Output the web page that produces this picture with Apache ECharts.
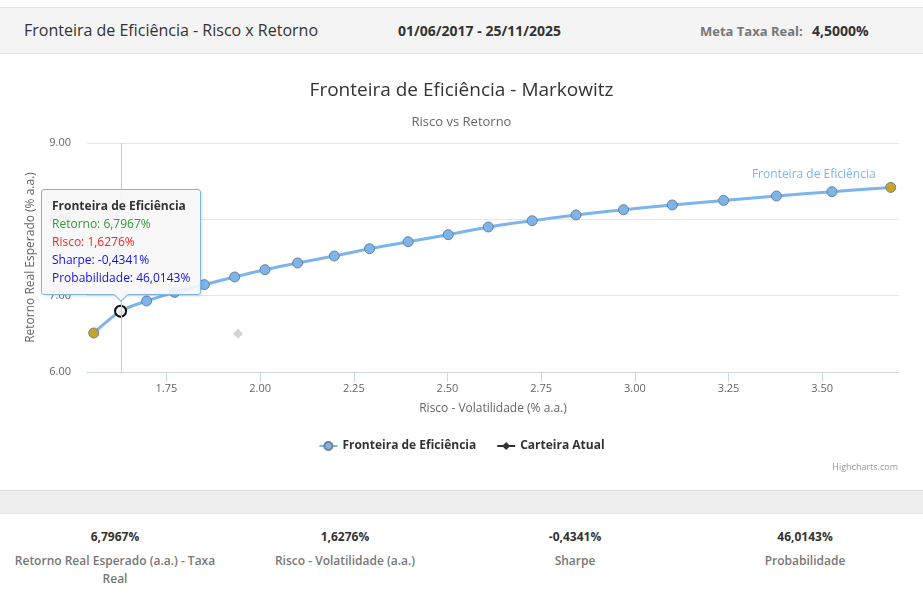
<!DOCTYPE html>
<html>
<head>
<meta charset="utf-8">
<script src="https://cdn.jsdelivr.net/npm/echarts@6/dist/echarts.min.js"></script>
<style>
	body { margin: 0; width: 923px; height: 606px; background: #fff; font-family: 'Open Sans', sans-serif; position: relative; overflow: hidden; }
	#header { position: absolute; top: 7px; left: 0; width: 923px; height: 45px; background: #f4f4f4; border-top: 1px solid #e4e4e4; border-bottom: 1px solid #e4e4e4; }
	#header div { position: absolute; top: 11px; font-size: 16px; color: #333; white-space: nowrap; }
	#chartdiv { position: absolute; top: 55px; left: 0; width: 923px; height: 435px; }
	#band { position: absolute; top: 490px; left: 0; width: 923px; height: 22px; background: #eee; border-top: 1px solid #ddd; border-bottom: 1px solid #e4e4e4; }
	#footer { position: absolute; top: 528px; left: 0; width: 923px; }
	#footer .col { float: left; width: 230px; text-align: center; padding: 0 14px; box-sizing: border-box; }
	#footer .val { font-size: 12px; font-weight: bold; color: #333; line-height: 18px; }
	#footer .lbl { font-size: 12px; font-weight: 600; color: #777; line-height: 18px; margin-top: 6px; }
</style>
</head>
<body>
<div id="header">
	<div style="left:24px;">Fronteira de Eficiência - Risco x Retorno</div>
	<div style="left:398px;font-weight:bold;font-size:14px;top:13px;">01/06/2017 - 25/11/2025</div>
	<div style="left:700px;font-weight:bold;font-size:13px;top:14px;color:#777;">Meta Taxa Real:</div>
	<div style="left:812px;font-weight:bold;font-size:14px;top:13px;">4,5000%</div>
</div>
<div id="chartdiv"></div>
<div id="band"></div>
<div id="footer"></div>
<script>
// fronteira: risco (x) e retorno (y)
var riscoFronteira = [1.556, 1.6276, 1.697, 1.772, 1.851, 1.932, 2.013, 2.100, 2.198, 2.292, 2.395,
	2.502, 2.609, 2.726, 2.843, 2.970, 3.100, 3.237, 3.378, 3.526, 3.683];
var retornoFronteira = [6.511, 6.7967, 6.930, 7.043, 7.144, 7.245, 7.340, 7.428, 7.520, 7.615, 7.707,
	7.799, 7.900, 7.982, 8.057, 8.126, 8.188, 8.248, 8.305, 8.362, 8.418];
var carteiraAtual = [1.941, 6.502];
var xTicks = [1.75, 2.00, 2.25, 2.50, 2.75, 3.00, 3.25, 3.50];
var selIndex = 1;
var selInfo = { retorno: '6,7967%', risco: '1,6276%', sharpe: '-0,4341%', probabilidade: '46,0143%' };
var footerLabels = ['Retorno Real Esperado (a.a.) - Taxa Real', 'Risco - Volatilidade (a.a.)', 'Sharpe', 'Probabilidade'];
var footerValues = [selInfo.retorno, selInfo.risco, selInfo.sharpe, selInfo.probabilidade];

var footer = document.getElementById('footer');
for (var i in footerLabels) {
	var col = document.createElement('div');
	col.className = 'col';
	col.innerHTML = '<div class="val">' + footerValues[i] + '</div><div class="lbl">' + footerLabels[i] + '</div>';
	footer.appendChild(col);
}

var gold = '#c9a42a';
var blue = '#7cb5ec';
var fronteiraData = [];
for (var i = 0; i < riscoFronteira.length; i++) {
	var item = { value: [riscoFronteira[i], retornoFronteira[i]] };
	if (i == 0 || i == riscoFronteira.length - 1) {
		item.itemStyle = { color: gold };
	}
	if (i == selIndex) {
		item.symbolSize = 11;
		item.itemStyle = { color: '#eeeeee', borderColor: '#111', borderWidth: 2 };
	}
	if (i == riscoFronteira.length - 1) {
		item.label = { show: true, position: 'top', offset: [-77, 4], formatter: 'Fronteira de Eficiência',
			color: blue, fontSize: 12, fontFamily: 'Open Sans' };
	}
	fronteiraData.push(item);
}

var chart = echarts.init(document.getElementById('chartdiv'));
var font = 'Open Sans';
var option = {
	animation: false,
	textStyle: { fontFamily: font },
	title: [{
		text: 'Fronteira de Eficiência - Markowitz',
		left: 'center', top: 21,
		textStyle: { fontSize: 19, fontWeight: 'normal', color: '#333', fontFamily: font }
	}, {
		text: 'Risco vs Retorno',
		left: 'center', top: 56,
		textStyle: { fontSize: 13, fontWeight: 'normal', color: '#666', fontFamily: font }
	}],
	grid: { left: 87, right: 24, top: 88, bottom: 118 },
	xAxis: {
		type: 'value', min: 1.538, max: 3.705,
		name: 'Risco - Volatilidade (% a.a.)', nameLocation: 'middle', nameGap: 31,
		nameTextStyle: { color: '#666', fontSize: 12 },
		axisLine: { lineStyle: { color: '#ccd6eb' } },
		axisTick: { show: true, length: 10, customValues: xTicks, lineStyle: { color: '#ccd6eb' } },
		axisLabel: { customValues: xTicks, color: '#666', fontSize: 11, margin: 11,
			formatter: function (v) { return v.toFixed(2); } },
		splitLine: { show: false }
	},
	yAxis: {
		type: 'value', min: 6, max: 9, interval: 1,
		name: 'Retorno Real Esperado (% a.a.)', nameLocation: 'middle', nameGap: 50,
		nameTextStyle: { color: '#666', fontSize: 12 },
		axisLine: { show: false },
		axisTick: { show: false },
		axisLabel: { color: '#666', fontSize: 11, margin: 16,
			formatter: function (v) { return v.toFixed(2); } },
		splitLine: { lineStyle: { color: '#e6e6e6' } }
	},
	legend: {
		bottom: 33, left: 'center', itemGap: 20, itemWidth: 18, itemHeight: 10,
		textStyle: { color: '#333', fontSize: 12, fontWeight: 'bold' },
		data: [
			{ name: 'Fronteira de Eficiência' },
			{ name: 'Carteira Atual', itemStyle: { color: '#333', borderWidth: 0 }, lineStyle: { color: '#333' } }
		]
	},
	tooltip: {
		trigger: 'item', triggerOn: 'none', alwaysShowContent: true,
		backgroundColor: 'rgba(247,247,247,0.9)', borderColor: blue, borderWidth: 1, padding: [7, 10],
		textStyle: { fontSize: 12, color: '#333', fontFamily: font },
		extraCssText: 'border-radius:3px;box-shadow:1px 1px 3px rgba(0,0,0,0.12);line-height:18px;overflow:visible;',
		position: function (point, params, dom, rect, size) {
			return [point[0] - size.contentSize[0] / 2, point[1] - size.contentSize[1] - 16];
		},
		formatter: function (p) {
			return '<b>' + p.seriesName + '</b><br/>' +
				'<span style="color:#339933">Retorno: ' + selInfo.retorno + '</span><br/>' +
				'<span style="color:#ff2020">Risco: ' + selInfo.risco + '</span><br/>' +
				'<span style="color:#1010ee">Sharpe: ' + selInfo.sharpe + '</span><br/>' +
				'<span style="color:#1010ee">Probabilidade: ' + selInfo.probabilidade + '</span>' +
				'<div style="position:absolute;left:50%;bottom:-6px;margin-left:-5px;width:9px;height:9px;' +
				'background:#f7f7f7;border-right:1px solid ' + blue + ';border-bottom:1px solid ' + blue + ';transform:rotate(45deg);"></div>';
		}
	},
	graphic: [{
		type: 'text', right: 25, top: 408,
		style: { text: 'Highcharts.com', fill: '#999', fontSize: 9, fontFamily: font }
	}],
	series: [{
		name: 'Fronteira de Eficiência',
		type: 'line', smooth: 0.3,
		symbol: 'circle', symbolSize: 10,
		lineStyle: { color: blue, width: 3 },
		itemStyle: { color: blue, borderColor: '#6f7f90', borderWidth: 1 },
		data: fronteiraData,
		z: 3,
		markLine: {
			silent: true, symbol: 'none', label: { show: false },
			lineStyle: { color: '#cccccc', width: 1, type: 'solid' },
			data: [{ xAxis: riscoFronteira[selIndex] }]
		}
	}, {
		name: 'Carteira Atual',
		type: 'line',
		symbol: 'diamond', symbolSize: 10,
		itemStyle: { color: '#d4d4d4' },
		lineStyle: { color: '#d4d4d4' },
		data: [carteiraAtual],
		z: 2
	}]
};
chart.setOption(option);
chart.dispatchAction({ type: 'showTip', seriesIndex: 0, dataIndex: selIndex });
</script>
</body>
</html>
